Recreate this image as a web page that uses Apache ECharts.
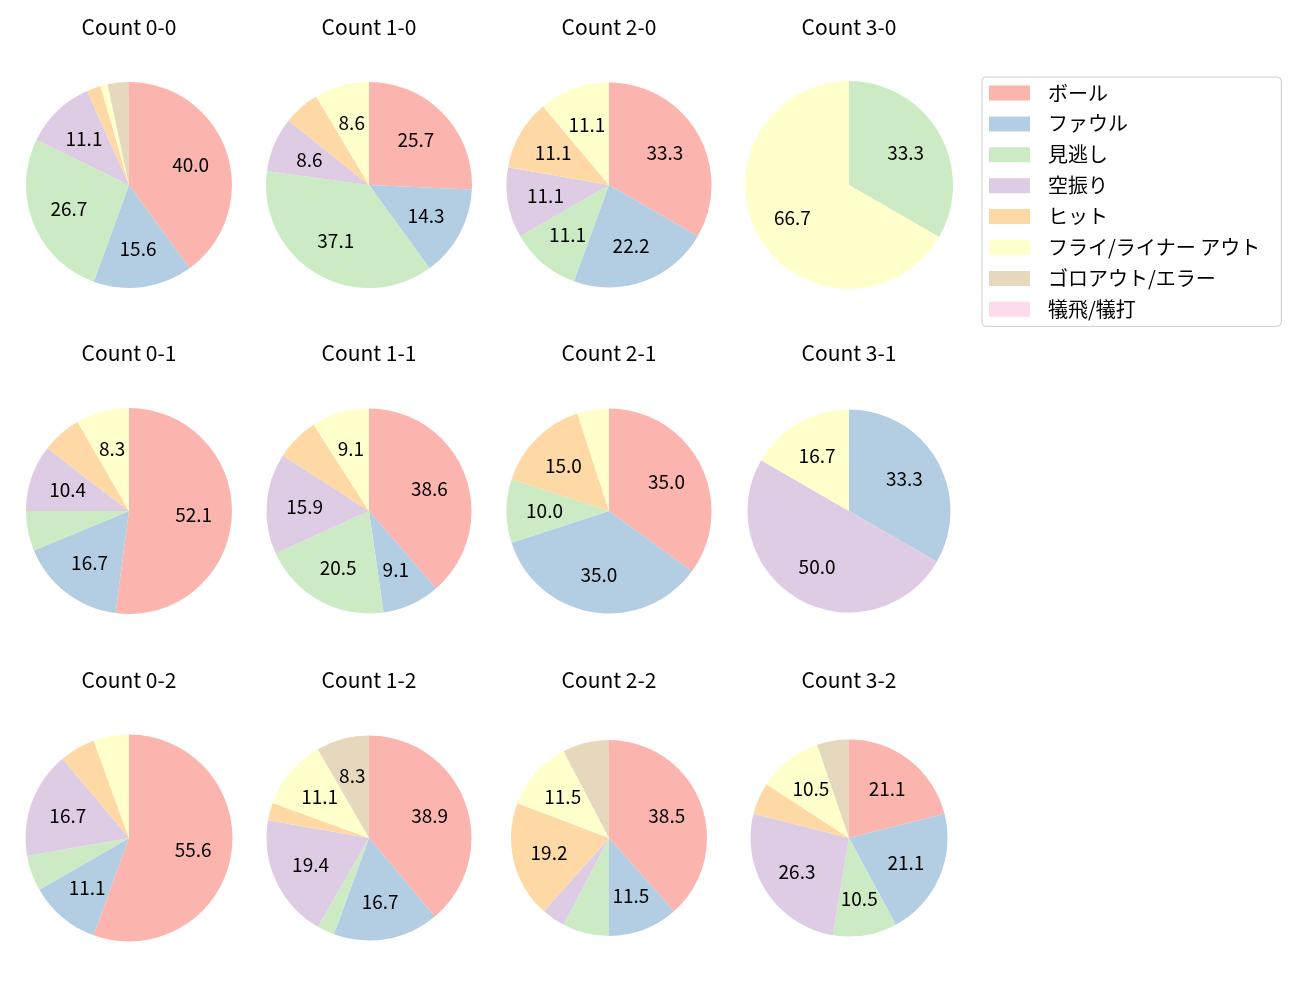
<!DOCTYPE html>
<html>
<head>
<meta charset="utf-8">
<script src="https://cdn.jsdelivr.net/npm/echarts@6/dist/echarts.min.js"></script>
<style>
  html, body { margin: 0; padding: 0; background: #fff; }
  #chart { width: 1300px; height: 1000px; }
</style>
</head>
<body>
<div id="chart"></div>
<script>
// 球種結果カテゴリ
const categories = ['ボール', 'ファウル', '見逃し', '空振り', 'ヒット', 'フライ/ライナー アウト', 'ゴロアウト/エラー', '犠飛/犠打']
const colors = ['#fbb4ae', '#b3cde3', '#ccebc5', '#decbe4', '#fed9a6', '#ffffcc', '#e5d8bd', '#fddaec']

// カウント別の件数（カテゴリ順）
const countNames = ['0-0', '1-0', '2-0', '3-0', '0-1', '1-1', '2-1', '3-1', '0-2', '1-2', '2-2', '3-2']
const c00 = [36, 14, 24, 10, 2, 1, 3, 0]
const c10 = [9, 5, 13, 3, 2, 3, 0, 0]
const c20 = [3, 2, 1, 1, 1, 1, 0, 0]
const c30 = [0, 0, 1, 0, 0, 2, 0, 0]
const c01 = [25, 8, 3, 5, 3, 4, 0, 0]
const c11 = [17, 4, 9, 7, 3, 4, 0, 0]
const c21 = [7, 7, 2, 0, 3, 1, 0, 0]
const c31 = [0, 2, 0, 3, 0, 1, 0, 0]
const c02 = [10, 2, 1, 3, 1, 1, 0, 0]
const c12 = [14, 6, 1, 7, 1, 4, 3, 0]
const c22 = [10, 3, 2, 1, 5, 3, 2, 0]
const c32 = [4, 4, 2, 5, 1, 2, 1, 0]
const counts = [c00, c10, c20, c30, c01, c11, c21, c31, c02, c12, c22, c32]

// レイアウト
const colX = [129, 369, 609, 849]
const rowY = [185, 511, 838]
const radii = [103, 103, 102.5, 104, 103, 102.5, 102.5, 101.5, 103.5, 102.5, 98, 98.5]
const FONT = '"Noto Sans CJK JP", "Noto Sans", sans-serif'

const chart = echarts.init(document.getElementById('chart'))

let series = []
let titles = []
counts.forEach((vals, i) => {
  let cx = colX[i % 4]
  let cy = rowY[Math.floor(i / 4)]
  let r = radii[i]
  let total = vals.reduce((a, b) => a + b, 0)
  let data = vals.map((v, k) => ({
    name: categories[k],
    value: v,
    itemStyle: { color: colors[k] }
  }))
  titles.push({
    text: 'Count ' + countNames[i],
    left: cx,
    top: cy - 168,
    padding: 0,
    textAlign: 'center',
    textStyle: { fontFamily: FONT, fontSize: 21, fontWeight: 'normal', color: '#000' }
  })
  // 扇形
  series.push({
    type: 'pie',
    center: [cx, cy],
    radius: [0, r],
    startAngle: 90,
    clockwise: true,
    silent: true,
    animation: false,
    label: { show: false },
    labelLine: { show: false },
    itemStyle: { borderWidth: 0 },
    data: data
  })
  // ラベル（半径の0.6の位置）
  series.push({
    type: 'pie',
    center: [cx, cy],
    radius: [0, r * 1.2],
    startAngle: 90,
    clockwise: true,
    silent: true,
    animation: false,
    legendHoverLink: false,
    itemStyle: { color: 'rgba(0,0,0,0)' },
    label: {
      show: true,
      position: 'inside',
      fontFamily: FONT,
      fontSize: 19,
      color: '#000',
      formatter: p => {
        let pct = p.value / total * 100
        return pct >= 8 ? pct.toFixed(1) : ''
      }
    },
    labelLine: { show: false },
    data: vals.map((v, k) => ({ name: categories[k] + ' ', value: v }))
  })
})

chart.setOption({
  backgroundColor: '#fff',
  animation: false,
  title: titles,
  legend: {
    data: categories,
    orient: 'vertical',
    left: 982,
    top: 77,
    padding: [6, 21, 7, 7],
    itemWidth: 41,
    itemHeight: 15,
    itemGap: 10.9,
    icon: 'rect',
    borderColor: '#cccccc',
    borderWidth: 1,
    borderRadius: 4,
    selectedMode: false,
    textStyle: { fontFamily: FONT, fontSize: 20, color: '#000', lineHeight: 18, padding: [0, 0, 0, 13] }
  },
  series: series
})
</script>
</body>
</html>
